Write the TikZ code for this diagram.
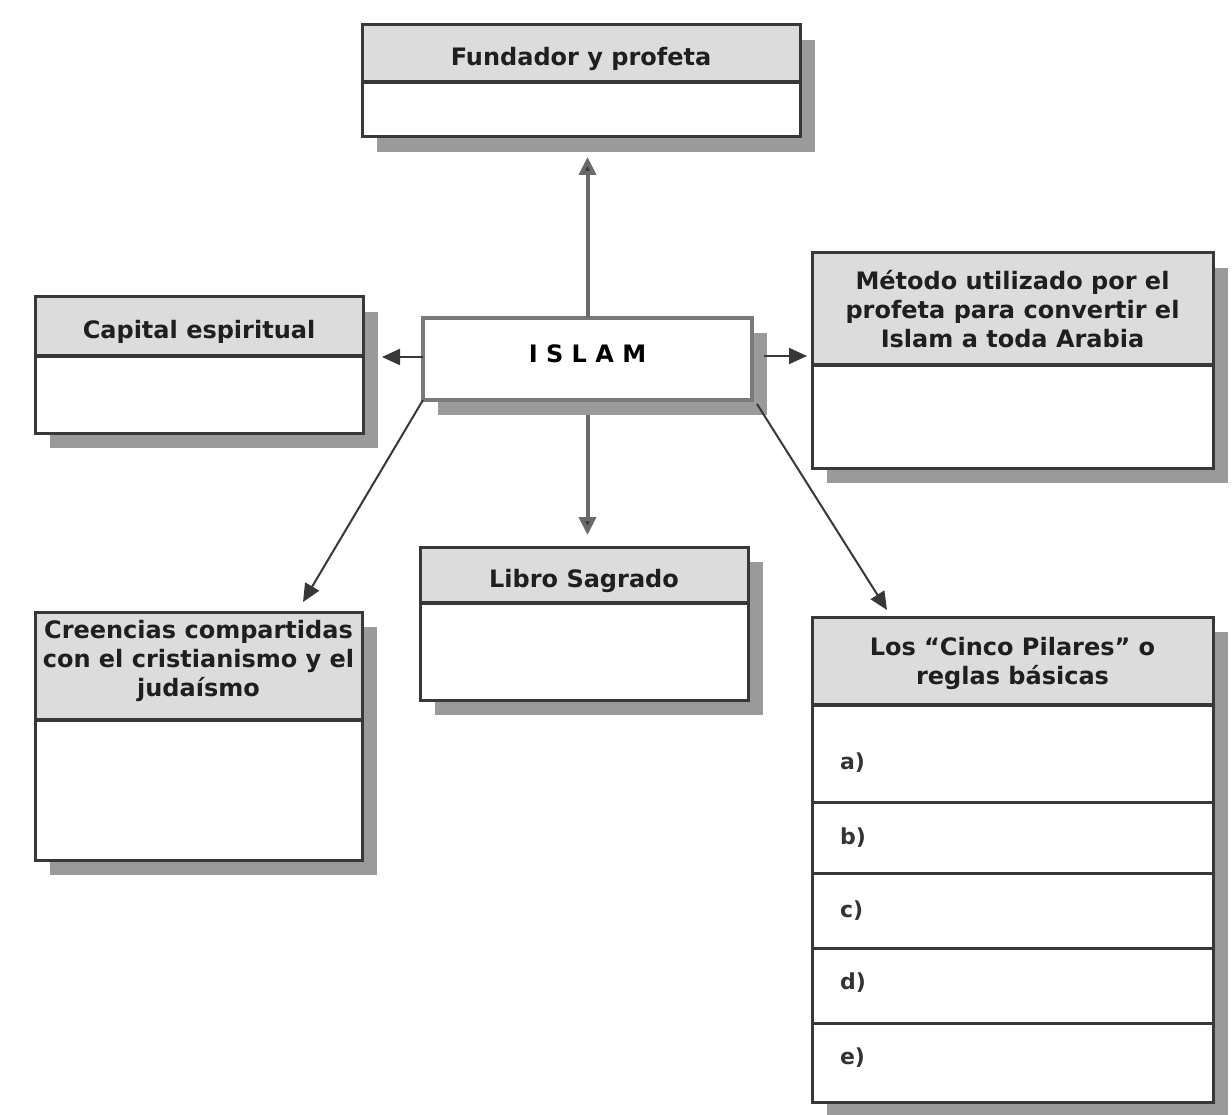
\documentclass[tikz,border=0pt]{standalone}
\usepackage{fontspec}
\setmainfont{DejaVu Sans}
\usetikzlibrary{shadows,arrows.meta,calc}
\definecolor{bord}{HTML}{383838}
\definecolor{headfill}{HTML}{DCDCDC}
\definecolor{shade}{HTML}{9A9A9A}
\definecolor{vline}{HTML}{6A6A6A}
\definecolor{islamb}{HTML}{7A7A7A}
\newcommand{\hstack}[2]{\raisebox{#1}[\height][\depth]{\begin{tabular}{@{}c@{}}#2\end{tabular}}}
\begin{document}
\begin{tikzpicture}[x=1pt,y=-1pt,
  font=\fontsize{24}{29}\selectfont\bfseries,
  box/.style={draw=bord, line width=3pt, fill=white, rectangle, inner sep=0pt, outer sep=0pt, anchor=north west,
    general shadow={shadow xshift=15pt, shadow yshift=-15pt, fill=shade, draw=none}},
  head/.style={draw=bord, line width=3pt, fill=headfill, rectangle, inner sep=0pt, outer sep=0pt, anchor=north west, align=center, text=black!88},
  oneline/.style={text height=30pt, text depth=6pt},
  sepline/.style={draw=bord, line width=4pt},
  rowcell/.style={draw=bord, line width=3pt, rectangle, anchor=north west, minimum width=401pt, outer sep=0pt,
    inner xsep=28pt, inner ysep=0pt, text width=345pt, align=left, font=\fontsize{22}{26}\selectfont\bfseries, text=black!80},
  conn/.style={draw=bord, line width=2pt, -{Triangle[length=18pt,width=16pt]}},
  vconn/.style={draw=vline, line width=4pt, -{Triangle[length=18pt,width=17pt,fill=bord]}}
]
\fill[white] (0,0) rectangle (1232,1115);
\useasboundingbox (0,0) rectangle (1232,1115);

% Fundador y profeta
\node[box, minimum width=438pt, minimum height=112pt] (fund) at (362,25) {};
\node[head, oneline, minimum width=438pt, minimum height=57pt] (fundh) at (fund.north west) {Fundador y profeta};
\draw[sepline] (fundh.south west) -- (fundh.south east);

% Capital espiritual
\node[box, minimum width=328pt, minimum height=136pt] (cap) at (35,297) {};
\node[head, oneline, minimum width=328pt, minimum height=59pt] (caph) at (cap.north west) {Capital espiritual};
\draw[sepline] (caph.south west) -- (caph.south east);

% ISLAM
\node[box, draw=islamb, line width=4pt, minimum width=329pt, minimum height=82pt, anchor=north west] (islam) at (423,318) {};
\node (islamt) at ([yshift=5pt]islam.center) {I S L A M};

% Metodo
\node[box, minimum width=401pt, minimum height=215pt] (met) at (812,253) {};
\node[head, minimum width=401pt, minimum height=112pt] (meth) at (met.north west) {Método utilizado por el\\profeta para convertir el\\Islam a toda Arabia};
\draw[sepline] (meth.south west) -- (meth.south east);

% Creencias
\node[box, minimum width=327pt, minimum height=248pt] (cre) at (35,612) {};
\node[head, minimum width=327pt, minimum height=108pt] (creh) at (cre.north west) {\hstack{4pt}{Creencias compartidas\\con el cristianismo y el\\judaísmo}};
\draw[sepline] (creh.south west) -- (creh.south east);

% Libro Sagrado
\node[box, minimum width=328pt, minimum height=153pt] (lib) at (420,547) {};
\node[head, oneline, minimum width=328pt, minimum height=56pt] (libh) at (lib.north west) {Libro Sagrado};
\draw[sepline] (libh.south west) -- (libh.south east);

% Cinco Pilares
\node[box, minimum width=401pt, minimum height=485pt] (pil) at (812,617) {};
\node[head, minimum width=401pt, minimum height=88pt] (pilh) at (pil.north west) {\hstack{-3pt}{Los “Cinco Pilares” o\\reglas básicas}};
\node[rowcell, minimum height=97pt] (pa) at (pilh.south west) {\raisebox{-9pt}[\height][\depth]{a)}};
\node[rowcell, minimum height=71pt] (pb) at (pa.south west) {b)};
\node[rowcell, minimum height=75pt] (pc) at (pb.south west) {c)};
\node[rowcell, minimum height=75pt] (pd) at (pc.south west) {\raisebox{3pt}[\height][\depth]{d)}};
\node[rowcell, minimum height=79pt] (pe) at (pd.south west) {\raisebox{5pt}[\height][\depth]{e)}};
\draw[sepline] (pilh.south west) -- (pilh.south east);

% connectors
\draw[vconn, shorten >=20pt] (islam.north) -- (islam.north |- fund.south);
\draw[vconn, shorten <=15pt, shorten >=12pt] (islam.south) -- (islam.south |- lib.north);
\draw[conn, shorten >=19pt] ([yshift=2pt]islam.west) -- ([yshift=2pt]islam.west -| cap.east);
\draw[conn, shorten <=12pt, shorten >=5pt] ([yshift=3pt]islam.east) -- ([yshift=3pt]islam.east -| met.west);
\draw[conn] (islam.south west) -- ([xshift=-59pt,yshift=10pt]cre.north east);
\draw[conn] ([xshift=5pt,yshift=-4pt]islam.south east) -- ([xshift=75pt,yshift=7pt]pil.north west);
\end{tikzpicture}
\end{document}
